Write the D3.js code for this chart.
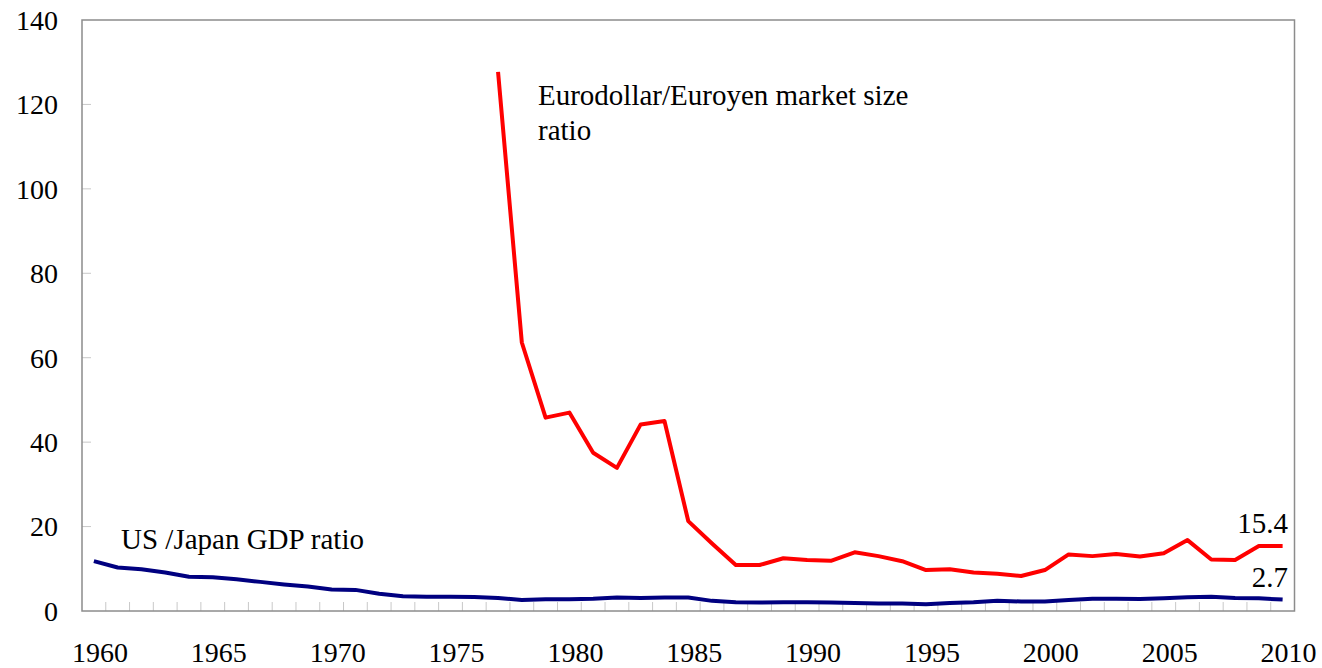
<!DOCTYPE html>
<html>
    <head>
        <meta charset="utf-8">
        <title>US/Japan GDP ratio and Eurodollar/Euroyen market size ratio</title>
        <script src="https://d3js.org/d3.v7.min.js"></script>
        <style>
            body { margin: 0; background: #fff; }
            text { font-family: "Liberation Serif", "Times New Roman", serif; fill: #000; }
        </style>
    </head>
    <body>
        <div id="chart"></div>
        <script>
            // years 1960..2010
            var years = d3.range(1960, 2011)

            // US / Japan GDP ratio, 1960..2010
            var gdpRatio = [11.8, 10.3, 9.9, 9.1, 8.1, 8.0, 7.5, 6.9, 6.3, 5.8,
                            5.1, 5.0, 4.1, 3.5, 3.4, 3.4, 3.3, 3.1, 2.6, 2.8,
                            2.8, 2.9, 3.2, 3.1, 3.2, 3.2, 2.4, 2.1, 2.0, 2.05,
                            2.05, 2.0, 1.9, 1.8, 1.75, 1.6, 1.9, 2.05, 2.45, 2.25,
                            2.25, 2.6, 2.9, 2.9, 2.85, 3.0, 3.25, 3.4, 3.1, 3.0, 2.7]

            // Eurodollar / Euroyen market size ratio, 1977..2010
            var euroYears = d3.range(1977, 2011)
            var euroRatio = [127.7, 63.6, 45.8, 47.0, 37.5, 33.9, 44.2, 45.0, 21.3, 16.0,
                             10.9, 10.9, 12.5, 12.1, 11.9, 13.9, 13.0, 11.8, 9.7, 9.9,
                             9.1, 8.8, 8.3, 9.7, 13.4, 13.0, 13.5, 12.9, 13.7, 16.8,
                             12.2, 12.1, 15.4, 15.4]

            var yTicks = [0, 20, 40, 60, 80, 100, 120, 140]
            var xLabels = [1960, 1965, 1970, 1975, 1980, 1985, 1990, 1995, 2000, 2005, 2010]

            var W = 1322, H = 668
            var plot = {left: 82, right: 1294.5, top: 20, bottom: 611}

            var svg = d3.select("#chart")
                .append("svg")
                    .attr("width", W)
                    .attr("height", H)

            var x = d3.scaleLinear()
                .domain([1959.5, 2010.5])
                .range([plot.left, plot.right])

            var y = d3.scaleLinear()
                .domain([0, 140])
                .range([plot.bottom, plot.top])

            // year ticks between categories
            svg.append("g")
                .selectAll("line")
                .data(d3.range(1960.5, 2010.5, 1))
                .enter()
                .append("line")
                .attr("x1", function(d) { return x(d) })
                .attr("x2", function(d) { return x(d) })
                .attr("y1", plot.bottom)
                .attr("y2", plot.bottom - 9)
                .attr("stroke", "#c8c8c8")
                .attr("stroke-width", 1)

            // y ticks inside the plot
            svg.append("g")
                .selectAll("line")
                .data(yTicks.slice(1, -1))
                .enter()
                .append("line")
                .attr("x1", plot.left)
                .attr("x2", plot.left + 9)
                .attr("y1", function(d) { return y(d) })
                .attr("y2", function(d) { return y(d) })
                .attr("stroke", "#c8c8c8")
                .attr("stroke-width", 1)

            // plot frame
            svg.append("rect")
                .attr("x", plot.left)
                .attr("y", plot.top)
                .attr("width", plot.right - plot.left)
                .attr("height", plot.bottom - plot.top)
                .attr("fill", "none")
                .attr("stroke", "#8c8c8c")
                .attr("stroke-width", 1.5)

            // y labels
            svg.append("g")
                .selectAll("text")
                .data(yTicks)
                .enter()
                .append("text")
                .attr("x", 58)
                .attr("y", function(d) { return y(d) })
                .attr("dy", "0.35em")
                .style("text-anchor", "end")
                .style("font-size", "28px")
                .text(function(d) { return d })

            // x labels
            svg.append("g")
                .selectAll("text")
                .data(xLabels)
                .enter()
                .append("text")
                .attr("x", function(d) { return x(d) + 6 })
                .attr("y", 662)
                .style("text-anchor", "middle")
                .style("font-size", "28px")
                .text(function(d) { return d })

            var line = d3.line()
                .x(function(d) { return x(d[0]) })
                .y(function(d) { return y(d[1]) })

            svg.append("path")
                .datum(d3.zip(years, gdpRatio))
                .attr("d", line)
                .attr("fill", "none")
                .attr("stroke", "#000080")
                .attr("stroke-width", 4)
                .attr("stroke-linejoin", "round")

            svg.append("path")
                .datum(d3.zip(euroYears, euroRatio))
                .attr("d", line)
                .attr("fill", "none")
                .attr("stroke", "#ff0000")
                .attr("stroke-width", 4)
                .attr("stroke-linejoin", "round")

            // series labels
            svg.append("text")
                .attr("x", 121)
                .attr("y", 549)
                .style("font-size", "29px")
                .text("US /Japan GDP ratio")

            svg.append("text")
                .attr("x", 538)
                .attr("y", 105)
                .style("font-size", "29px")
                .text("Eurodollar/Euroyen market size")
            svg.append("text")
                .attr("x", 538)
                .attr("y", 140)
                .style("font-size", "29px")
                .text("ratio")

            // end values
            svg.append("text")
                .attr("x", 1288)
                .attr("y", 533)
                .style("text-anchor", "end")
                .style("font-size", "29px")
                .text(euroRatio[euroRatio.length - 1])
            svg.append("text")
                .attr("x", 1288)
                .attr("y", 587)
                .style("text-anchor", "end")
                .style("font-size", "29px")
                .text(gdpRatio[gdpRatio.length - 1])
        </script>
    </body>
</html>
